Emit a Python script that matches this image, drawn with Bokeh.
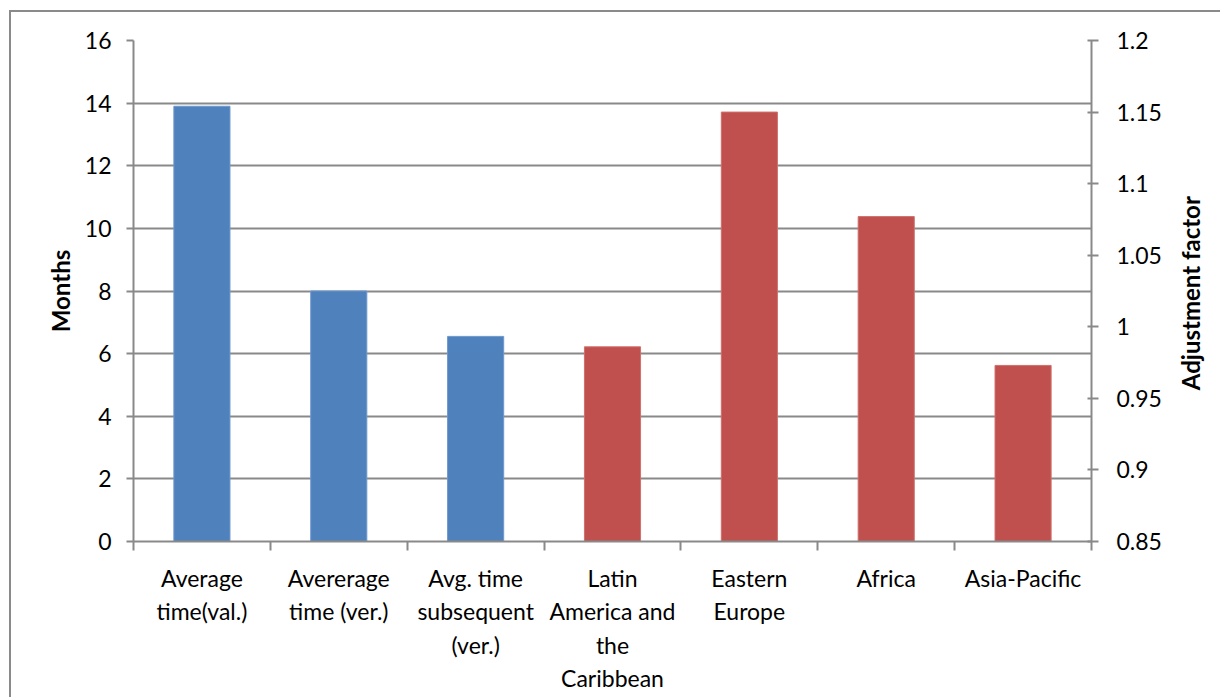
import math

from bokeh.plotting import figure
from bokeh.layouts import row
from bokeh.models import (Range1d, LinearAxis, FixedTicker, NumeralTickFormatter,
                          ColumnDataSource)
from bokeh.core.properties import value
from bokeh.embed import file_html
from bokeh.resources import INLINE

# Category labels (line breaks as wrapped on the axis)
categories = [
    "Average\ntime(val.)",
    "Avererage\ntime (ver.)",
    "Avg. time\nsubsequent\n(ver.)",
    "Latin\nAmerica and\nthe\nCaribbean",
    "Eastern\nEurope",
    "Africa",
    "Asia-Pacific",
]
# Processing times in months (left axis)
months = [13.9, 8.0, 6.55]
# Regional adjustment factors (right axis)
adjustment = [0.986, 1.15, 1.077, 0.973]

month_ticks = [0, 2, 4, 6, 8, 10, 12, 14, 16]
factor_ticks = [0.85, 0.9, 0.95, 1.0, 1.05, 1.1, 1.15, 1.2]

BLUE = "#4F81BD"
RED = "#C0504D"
GRAY = "#898989"
FONT = "Lato"
TICK_SIZE = "23px"
TITLE_SIZE = "24px"

# layout (pixels)
TOTAL_W, TOTAL_H = 1209, 685
MAIN_W = 1160
SIDE_W = TOTAL_W - MAIN_W
BORDER_L, BORDER_R, BORDER_T, BORDER_B = 122, 80, 28, 156
# the rotated SVG title sits higher than its anchor; pull it back down
TITLE_SHIFT = 67

n = len(categories)
xs = list(range(n))
n_months = len(months)

month_src = ColumnDataSource(dict(x=xs[:n_months], top=months))
factor_src = ColumnDataSource(dict(x=xs[n_months:], top=adjustment))

p = figure(width=MAIN_W, height=TOTAL_H, output_backend="svg", toolbar_location=None,
           x_range=Range1d(-0.5, n - 0.5),
           y_range=Range1d(month_ticks[0], month_ticks[-1]),
           min_border_left=BORDER_L, min_border_right=BORDER_R,
           min_border_top=BORDER_T, min_border_bottom=BORDER_B)
p.extra_y_ranges = {"adj": Range1d(factor_ticks[0], factor_ticks[-1])}

p.outline_line_color = None
p.background_fill_color = "white"
p.border_fill_color = "white"

p.vbar(x="x", top="top", bottom=0, width=0.41, source=month_src,
       fill_color=BLUE, line_color="#6d98cc", line_width=1)
p.vbar(x="x", top="top", bottom=factor_ticks[0], width=0.41, source=factor_src,
       y_range_name="adj", fill_color=RED, line_color="#cf706d", line_width=1)

# x axis: labels centred on categories, tick marks on category boundaries
xa = p.xaxis[0]
xa.ticker = FixedTicker(ticks=xs, minor_ticks=[i - 0.5 for i in range(n + 1)])
xa.major_label_overrides = {i: c for i, c in enumerate(categories)}
xa.major_tick_in = 0
xa.major_tick_out = 0
xa.minor_tick_in = 0
xa.minor_tick_out = 9
xa.minor_tick_line_color = GRAY
xa.minor_tick_line_width = 2
xa.axis_line_color = GRAY
xa.axis_line_width = 2
xa.major_label_standoff = 13
xa.major_label_text_font = FONT
xa.major_label_text_font_size = TICK_SIZE
xa.major_label_text_color = "black"

# left axis: months
ya = p.yaxis[0]
ya.ticker = FixedTicker(ticks=month_ticks, minor_ticks=[])
ya.axis_label = "Months"
ya.axis_label_text_font = FONT
ya.axis_label_text_font_style = "bold"
ya.axis_label_text_font_size = TITLE_SIZE
ya.axis_label_text_color = "black"
ya.axis_label_standoff = 7
ya.major_label_text_font = FONT
ya.major_label_text_font_size = TICK_SIZE
ya.major_label_text_color = "black"
ya.major_label_standoff = 15
ya.major_tick_in = 0
ya.major_tick_out = 7
ya.major_tick_line_color = GRAY
ya.major_tick_line_width = 2
ya.axis_line_color = GRAY
ya.axis_line_width = 2

p.xgrid.visible = False
p.ygrid.ticker = FixedTicker(ticks=month_ticks)
p.ygrid.grid_line_color = GRAY
p.ygrid.grid_line_width = 2

# right axis: adjustment factor
ra = LinearAxis(y_range_name="adj", ticker=FixedTicker(ticks=factor_ticks, minor_ticks=[]),
                formatter=NumeralTickFormatter(format="0.[00]"))
ra.major_label_text_font = FONT
ra.major_label_text_font_size = TICK_SIZE
ra.major_label_text_color = "black"
ra.major_label_standoff = 18
ra.major_tick_in = 4
ra.major_tick_out = 7
ra.major_tick_line_color = GRAY
ra.major_tick_line_width = 2
ra.axis_line_color = GRAY
ra.axis_line_width = 2
p.add_layout(ra, "right")

# narrow strip holding the right-hand axis title, reading bottom-to-top
side = figure(width=SIDE_W, height=TOTAL_H, output_backend="svg", toolbar_location=None,
              x_range=Range1d(0, SIDE_W), y_range=Range1d(0, TOTAL_H),
              x_axis_type=None, y_axis_type=None,
              min_border=0, outline_line_color=None)
side.grid.visible = False
frame_mid_y = BORDER_B + (TOTAL_H - BORDER_T - BORDER_B) / 2
side.text(x=[19], y=[frame_mid_y - TITLE_SHIFT], text=["Adjustment factor"],
          angle=math.pi / 2, text_align="center", text_baseline="middle",
          text_font=value(FONT), text_font_style="bold",
          text_font_size=TITLE_SIZE, text_color="black")

layout = row(p, side, spacing=0)
layout.styles = {"margin-left": "9px", "margin-top": "10px",
                 "border-left": "2px solid #8a8a8a", "border-top": "2px solid #8a8a8a"}

open("out.html", "w").write(file_html(layout, INLINE))
